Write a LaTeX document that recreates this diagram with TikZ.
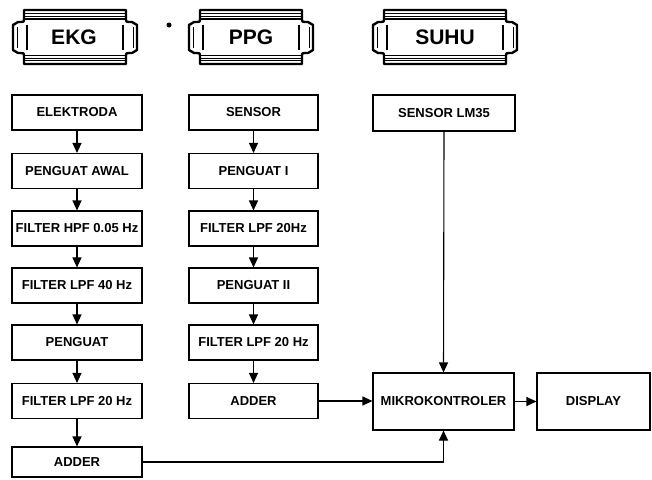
\documentclass[tikz,border=0pt]{standalone}
\usepackage{fontspec}
\setmainfont{Liberation Sans}
\usetikzlibrary{arrows.meta}
\tikzset{
  blk/.style={draw, line width=1.1pt, inner sep=0pt, anchor=center,
    font=\fontsize{13}{15}\selectfont\bfseries},
  colA/.style={blk, minimum width=130pt, minimum height=35pt},
  colB/.style={blk, minimum width=129pt, minimum height=35pt},
  arr/.style={line width=1.1pt, -{Triangle[length=10pt,width=9pt]}},
  hdrtxt/.style={font=\fontsize{21}{24}\selectfont\bfseries, inner sep=0pt},
  frameout/.style={line width=2.4pt, line join=round},
  framein/.style={line width=1pt},
}
\newcommand\hdrframe[2]{%
  \draw[frameout] ({#1+11},10) -- ({#2-11},10) -- ({#2-11},19)
     .. controls ({#2-11},22) .. ({#2-5},22) -- ({#2},25) -- ({#2},50) -- ({#2-5},53)
     .. controls ({#2-11},53) .. ({#2-11},56) -- ({#2-11},64) -- ({#1+11},64) -- ({#1+11},56)
     .. controls ({#1+11},53) .. ({#1+5},53) -- ({#1},50) -- ({#1},25) -- ({#1+5},22)
     .. controls ({#1+11},22) .. ({#1+11},19) -- cycle;
  \draw[framein] ({#1+11},13.5) -- ({#2-11},13.5) ({#1+11},60.5) -- ({#2-11},60.5);
  \draw[framein] ({#1+11},16) -- ({#2-11},16) ({#1+11},58) -- ({#2-11},58);
  \draw[line width=1.6pt] ({#1+11},18.8) -- ({#2-11},18.8) ({#1+11},55.5) -- ({#2-11},55.5);
  \draw[line width=1.6pt] ({#2-14},25) -- ({#2-14},50) ({#1+14},25) -- ({#1+14},50);
  \draw[framein] ({#1+4},27) -- ({#1+4},48) ({#2-4},27) -- ({#2-4},48);
}
\begin{document}
\begin{tikzpicture}[x=1pt,y=-1pt]
\useasboundingbox (0,0) rectangle (652,479);
% headers
\hdrframe{13}{137}
\node[hdrtxt] (hekg) at (74,37.5) {EKG};
\hdrframe{189}{313}
\node[hdrtxt] (hppg) at (251,37.5) {PPG};
\hdrframe{373}{517}
\node[hdrtxt] (hsuhu) at (445,37.5) {SUHU};
\fill (169,25) circle (2.5pt);
% EKG column
\node[colA] (e1) at (77,112.5) {ELEKTRODA};
\node[colA] (e2) at (77,171) {PENGUAT AWAL};
\node[colA] (e3) at (77,228.5) {FILTER HPF 0.05 Hz};
\node[colA] (e4) at (77,285.5) {FILTER LPF 40 Hz};
\node[colA] (e5) at (77,342.5) {PENGUAT};
\node[colA] (e6) at (77,401) {FILTER LPF 20 Hz};
\node[colA, minimum height=30pt] (e7) at (77,462) {ADDER};
% PPG column
\node[colB] (p1) at (253.5,112.5) {SENSOR};
\node[colB] (p2) at (253.5,171) {PENGUAT I};
\node[colB] (p3) at (253.5,228.5) {FILTER LPF 20Hz};
\node[colB] (p4) at (253.5,285.5) {PENGUAT II};
\node[colB] (p5) at (253.5,342.5) {FILTER LPF 20 Hz};
\node[colB] (p6) at (253.5,401) {ADDER};
% SUHU and output
\node[blk, minimum width=142pt, minimum height=36pt] (s1) at (444,113) {SENSOR LM35};
\node[blk, minimum width=141pt, minimum height=57pt] (mk) at (443.5,401.5) {MIKROKONTROLER};
\node[blk, minimum width=113pt, minimum height=57pt] (dp) at (593.5,401.5) {DISPLAY};
% connectors
\foreach \a/\b in {e1/e2,e2/e3,e3/e4,e4/e5,e5/e6,e6/e7,p1/p2,p2/p3,p3/p4,p4/p5,p5/p6}
  \draw[arr] (\a) -- (\b);
\draw[arr] (s1.south) -- (mk.north);
\draw[arr] (p6.east) -- (mk.west |- p6.east);
\draw[arr] (mk.east) -- (dp.west);
\draw[arr] (e7.east) -- (mk.south |- e7.east) -- (mk.south);
\end{tikzpicture}
\end{document}
